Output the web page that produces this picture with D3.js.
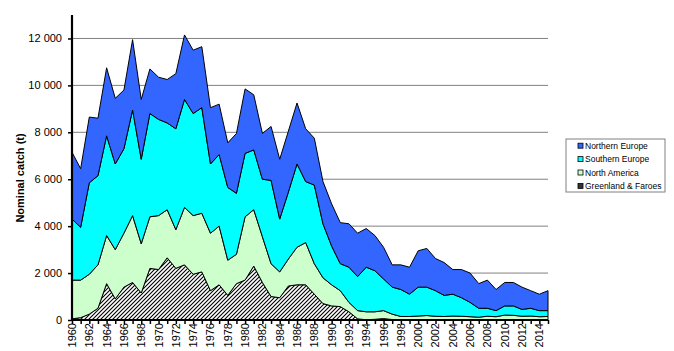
<!DOCTYPE html>
<html>
<head>
<meta charset="utf-8">
<script src="https://cdn.jsdelivr.net/npm/d3@7/dist/d3.min.js"></script>
<style>
  body { margin: 0; background: #fff; }
  text { font-family: "Liberation Sans", Arial, sans-serif; }
</style>
</head>
<body>
<div id="chart"></div>
<script>
const years = [
  1960, 1961, 1962, 1963, 1964, 1965, 1966, 1967, 1968, 1969,
  1970, 1971, 1972, 1973, 1974, 1975, 1976, 1977, 1978, 1979,
  1980, 1981, 1982, 1983, 1984, 1985, 1986, 1987, 1988, 1989,
  1990, 1991, 1992, 1993, 1994, 1995, 1996, 1997, 1998, 1999,
  2000, 2001, 2002, 2003, 2004, 2005, 2006, 2007, 2008, 2009,
  2010, 2011, 2012, 2013, 2014, 2015
];

// nominal catch (t) per region
const greenlandFaroes = [
  50, 100, 250, 500, 1550, 900, 1400, 1600, 1150, 2200,
  2150, 2650, 2200, 2350, 1950, 2050, 1250, 1500, 1050, 1550,
  1700, 2300, 1600, 1000, 950, 1450, 1500, 1500, 1100, 700,
  600, 570, 350, 50, 10, 30, 60, 20, 10, 10,
  10, 10, 10, 10, 10, 10, 10, 10, 10, 10,
  10, 10, 10, 10, 10, 10
];
const northAmerica = [
  1650, 1600, 1700, 1850, 2050, 2100, 2300, 2850, 2100, 2200,
  2300, 2050, 1650, 2450, 2500, 2500, 2450, 2500, 1500, 1250,
  2700, 2400, 1950, 1400, 1100, 1150, 1600, 1800, 1300, 1100,
  900, 680, 400, 350, 340, 320, 340, 230, 140, 140,
  160, 180, 150, 140, 160, 150, 130, 110, 150, 130,
  200, 190, 150, 160, 130, 140
];
const southernEurope = [
  2600, 2250, 3900, 3800, 4250, 3650, 3600, 4500, 3600, 4400,
  4100, 3700, 4300, 4600, 4350, 4500, 2950, 3050, 3100, 2600,
  2700, 2550, 2450, 3550, 2250, 2850, 3550, 2600, 3350, 2300,
  1650, 1150, 1500, 1450, 1900, 1750, 1350, 1150, 1150, 950,
  1230, 1210, 1090, 900, 930, 790, 610, 380, 340, 260,
  390, 400, 290, 330, 260, 250
];
const northernEurope = [
  2850, 2500, 2800, 2450, 2900, 2800, 2500, 3000, 2550, 1900,
  1800, 1850, 2350, 2750, 2700, 2600, 2400, 2150, 1900, 2550,
  2750, 2350, 1950, 2300, 2550, 2600, 2600, 2250, 2000, 1800,
  1800, 1750, 1850, 1850, 1650, 1500, 1350, 950, 1050, 1150,
  1550, 1650, 1370, 1400, 1050, 1200, 1250, 1050, 1200, 900,
  1000, 1000, 950, 750, 700, 850
];

const seriesNames = ["Greenland & Faroes", "North America", "Southern Europe", "Northern Europe"];
const seriesColors = ["url(#hatch)", "#ccffcc", "#00ffff", "#3366ff"];
const yTicks = [0, 2000, 4000, 6000, 8000, 10000, 12000];
const xLabelYears = years.filter(y => y % 2 === 0 && y < 2015);

const W = 674, H = 351;
const plotLeft = 72, plotRight = 548, plotTop = 15, plotBottom = 320;

const table = years.map((year, i) => ({
  year,
  "Greenland & Faroes": greenlandFaroes[i],
  "North America": northAmerica[i],
  "Southern Europe": southernEurope[i],
  "Northern Europe": northernEurope[i]
}));

const svg = d3.select("#chart").append("svg")
  .attr("width", W)
  .attr("height", H);

const defs = svg.append("defs");
const pat = defs.append("pattern")
  .attr("id", "hatch")
  .attr("patternUnits", "userSpaceOnUse")
  .attr("width", 4)
  .attr("height", 4);
pat.append("rect").attr("width", 4).attr("height", 4).attr("fill", "#fff");
pat.append("path")
  .attr("d", "M-1,1 l2,-2 M0,4 l4,-4 M3,5 l2,-2")
  .attr("stroke", "#000")
  .attr("stroke-width", 1.1);

const x = d3.scaleLinear().domain([1960, 2015]).range([plotLeft, plotRight]);
const y = d3.scaleLinear().domain([0, 13000]).range([plotBottom, plotTop]);

// gridlines
svg.append("g")
  .selectAll("line")
  .data(yTicks.filter(d => d > 0))
  .enter().append("line")
  .attr("x1", plotLeft).attr("x2", plotRight)
  .attr("y1", d => y(d)).attr("y2", d => y(d))
  .attr("stroke", "#808080")
  .attr("stroke-width", 1);

const stacked = d3.stack().keys(seriesNames)(table);

const area = d3.area()
  .x(d => x(d.data.year))
  .y0(d => y(d[0]))
  .y1(d => y(d[1]));

svg.append("g")
  .selectAll("path")
  .data(stacked)
  .enter().append("path")
  .attr("d", area)
  .attr("fill", (d, i) => seriesColors[i])
  .attr("stroke", "#000")
  .attr("stroke-width", 1)
  .attr("stroke-linejoin", "round");

// y axis
const yAxis = svg.append("g")
  .attr("transform", `translate(${plotLeft},0)`)
  .call(d3.axisLeft(y).tickValues(yTicks).tickSize(4).tickPadding(6)
    .tickFormat(d => d3.format(",")(d).replace(/,/g, " ")));
yAxis.select(".domain").attr("stroke-width", 2.2).attr("d", `M0,${plotTop}V${plotBottom}`);
yAxis.selectAll(".tick line").attr("stroke-width", 1.5);
yAxis.selectAll("text").style("font-size", "11px").attr("fill", "#000");

// x axis
const xAxis = svg.append("g")
  .attr("transform", `translate(0,${plotBottom})`)
  .call(d3.axisBottom(x).tickValues(years).tickSize(4).tickFormat(""));
xAxis.select(".domain").attr("stroke-width", 2.2).attr("d", `M${plotLeft},0H${plotRight}`);
xAxis.selectAll(".tick line").attr("stroke-width", 1.5);

svg.append("g")
  .selectAll("text")
  .data(xLabelYears)
  .enter().append("text")
  .attr("transform", d => `translate(${x(d) + 4},${plotBottom + 3}) rotate(-90)`)
  .attr("text-anchor", "end")
  .style("font-size", "11px")
  .text(d => d);

svg.append("text")
  .attr("transform", `translate(24,178) rotate(-90)`)
  .attr("text-anchor", "middle")
  .style("font-size", "11px")
  .style("font-weight", "bold")
  .text("Nominal catch (t)");

// legend
const lg = svg.append("g").attr("transform", "translate(566,139)");
lg.append("rect")
  .attr("width", 99).attr("height", 53)
  .attr("fill", "#fff").attr("stroke", "#808080");
const legendOrder = [3, 2, 1, 0];
const items = lg.selectAll(".item")
  .data(legendOrder)
  .enter().append("g")
  .attr("transform", (d, i) => `translate(12,${6.7 + i * 13.4})`);
items.append("rect")
  .attr("x", 0).attr("y", -2.5)
  .attr("width", 5).attr("height", 5)
  .attr("fill", d => d === 0 ? "#333" : seriesColors[d])
  .attr("stroke", "#000").attr("stroke-width", 0.8);
items.append("text")
  .attr("x", 7).attr("y", 3.3)
  .style("font-size", "8.5px")
  .text(d => seriesNames[d]);
</script>
</body>
</html>
